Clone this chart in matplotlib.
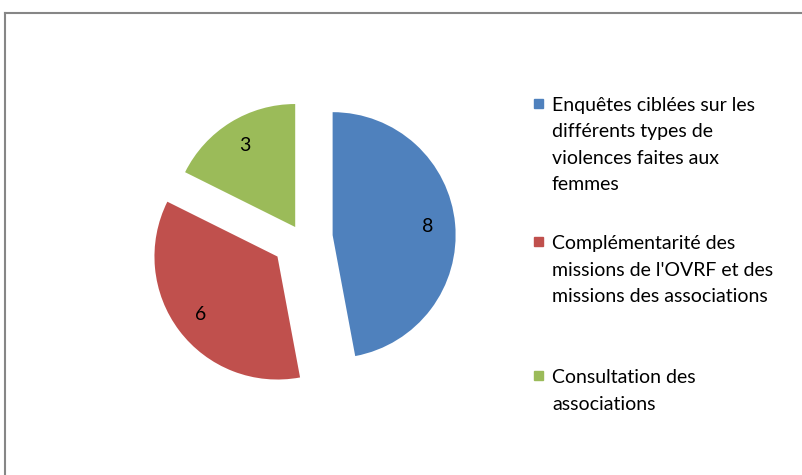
import matplotlib.pyplot as plt
from matplotlib.lines import Line2D
from matplotlib.patches import Rectangle

categories = [
    "Enquêtes ciblées sur les\ndifférents types de\nviolences faites aux\nfemmes",
    "Complémentarité des\nmissions de l'OVRF et des\nmissions des associations",
    "Consultation des\nassociations",
]
values = [8, 6, 3]
colors = ["#4F81BD", "#C0504D", "#9BBB59"]
explode = [0.25, 0.25, 0.105]

plt.rcParams['font.family'] = ['Lato', 'DejaVu Sans']

W, H = 803, 475
fig = plt.figure(figsize=(W / 100, H / 100), dpi=100)

# pie axes: centre (302, 238) px, radius 123 px
cx, cy, r = 302, 238, 123
half = 1.5 * r
ax = fig.add_axes([(cx - half) / W, (H - cy - half) / H, 2 * half / W, 2 * half / H])
total = sum(values)
ax.pie(values, colors=colors, explode=explode, startangle=90, counterclock=False,
       autopct=lambda p: f"{p * total / 100:.0f}", pctdistance=0.78,
       textprops={'fontsize': 14, 'color': 'black'},
       wedgeprops={'linewidth': 0})
ax.set_xlim(-1.5, 1.5)
ax.set_ylim(-1.5, 1.5)
ax.axis('off')

# legend drawn by hand so the marker sits on the first line
bases = [111, 249, 383]   # baseline of first line, px
pitch = 26.5
for lab, col, base in zip(categories, colors, bases):
    fig.patches.append(Rectangle((534 / W, 1 - (base - 3) / H), 9 / W, 9 / H,
                                 transform=fig.transFigure, color=col))
    for i, line in enumerate(lab.split("\n")):
        fig.text(552 / W, 1 - (base + i * pitch) / H, line, fontsize=14,
                 va='baseline', ha='left')

# chart border
bc = '#868686'
fig.add_artist(Line2D([5.5 / W, 5.5 / W], [0, 1 - 12.5 / H], color=bc, lw=1.5,
                      transform=fig.transFigure))
fig.add_artist(Line2D([5.5 / W, 1], [1 - 12.5 / H, 1 - 12.5 / H], color=bc, lw=1.5,
                      transform=fig.transFigure))

fig.savefig("out.png", dpi=100)
